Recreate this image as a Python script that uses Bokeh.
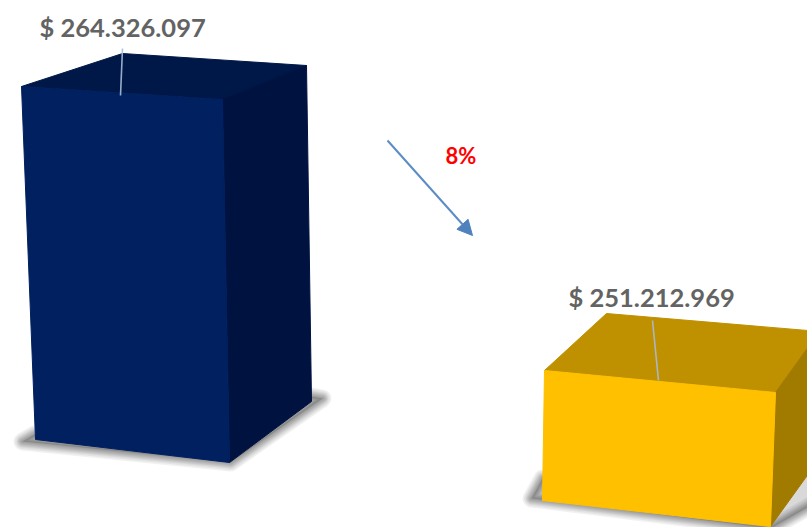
from bokeh.plotting import figure
from bokeh.models import Range1d, Arrow, NormalHead
from bokeh.core.properties import value
from bokeh.embed import file_html
from bokeh.resources import INLINE

# ---- data
categories = ["Periodo 1", "Periodo 2"]
values = [264326097, 251212969]
value_labels = ["$ 264.326.097", "$ 251.212.969"]
change_label = "8%"

# ---- drawing style and layout
W, H = 807, 527
front_colors = ["#002060", "#FFC000"]
top_colors = ["#001848", "#BF9000"]
side_colors = ["#001340", "#A17A00"]
bar_left = [21, 544]
# corner offsets (px) from the front top-left corner of each bar, y downward
front_off = [[(0, 0), (201, 13), (208, 376), (14, 353)],
             [(0, 0), (231, 22), (226, 156), (-2, 130)]]
top_off = [[(0, 0), (101, -33), (285, -21), (201, 13)],
           [(0, 0), (62, -57), (275, -39), (231, 22)]]
side_off = [[(201, 13), (285, -21), (290, 315), (208, 376)],
            [(231, 22), (275, -39), (275, 88), (226, 156)]]
shadow_off = [[(13, 348), (1, 355), (209, 376), (301, 312), (290, 310)],
              [(-2, 108), (-13, 128), (226, 158), (282, 126), (275, 92)]]
leader_off = [[(101, -38), (99, 9)], [(108, -50), (114, 10)]]
label_off = [(18, -60), (24, -74)]

# value scale: the bars stand on a truncated axis
PX = 13113128 / 284.0
y_top = values[0] + 86 * PX
y_bottom = y_top - H * PX


def yv(bar_value, dy):
    return bar_value - dy * PX


p = figure(width=W, height=H, output_backend="svg", toolbar_location=None,
           x_range=Range1d(0, W), y_range=Range1d(y_bottom, y_top),
           min_border=0, outline_line_color=None,
           background_fill_color="white", border_fill_color="white")
p.axis.visible = False
p.grid.visible = False
p.styles = {"position": "absolute", "left": "0", "top": "0"}


def poly(i, off):
    xs = [bar_left[i] + dx for dx, _ in off]
    ys = [yv(values[i], dy) for _, dy in off]
    return xs, ys


for i in range(len(values)):
    xs, ys = poly(i, shadow_off[i])
    p.patch(xs, ys, fill_color="#000000", fill_alpha=0.15, line_color=None)
    for w in (18, 15, 12, 10, 8, 6, 4, 2):
        p.patch(xs, ys, fill_color="#000000", fill_alpha=0.0,
                line_color="#000000", line_alpha=0.055, line_width=w,
                line_join="round")

    for off, col in ((top_off[i], top_colors[i]), (side_off[i], side_colors[i]),
                     (front_off[i], front_colors[i])):
        xs, ys = poly(i, off)
        p.patch(xs, ys, fill_color=col, line_color=col, line_width=1)

    xs, ys = poly(i, leader_off[i])
    p.line(xs, ys, line_color="#A6BCD8", line_width=1.6, line_alpha=0.9)

    xs, ys = poly(i, [label_off[i]])
    p.text(xs, ys, text=[value_labels[i]], text_font=value("Lato"),
           text_font_style="bold", text_font_size="25.5px", text_color="#636363",
           text_align="left", text_baseline="alphabetic")

p.add_layout(Arrow(end=NormalHead(size=15, fill_color="#4F81BD", line_color="#4F81BD"),
                   x_start=387, y_start=yv(values[0], 140 - 86),
                   x_end=472, y_end=yv(values[0], 235 - 86),
                   line_color="#5B8CC5", line_width=2))
p.text([445], [yv(values[0], 155 - 86)], text=[change_label], text_font=value("Lato"),
       text_font_style="bold", text_font_size="22px", text_color="#FF0000",
       text_align="left", text_baseline="alphabetic")

open("out.html", "w").write(file_html(p, INLINE))
